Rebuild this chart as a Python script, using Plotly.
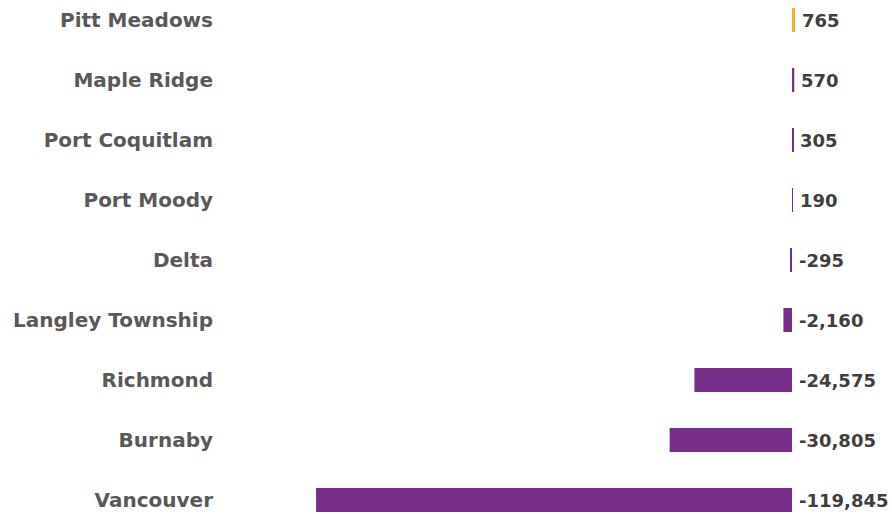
import plotly.graph_objects as go

# Net change by municipality
municipalities = [
    "Pitt Meadows", "Maple Ridge", "Port Coquitlam", "Port Moody", "Delta",
    "Langley Township", "Richmond", "Burnaby", "Vancouver",
]
net_change = [765, 570, 305, 190, -295, -2160, -24575, -30805, -119845]
value_labels = ["765", "570", "305", "190", "-295", "-2,160", "-24,575", "-30,805", "-119,845"]

PURPLE = "#772E88"
GOLD = "#F2B124"
bar_colors = [GOLD] + [PURPLE] * (len(municipalities) - 1)

fig = go.Figure(
    go.Bar(
        y=municipalities,
        x=net_change,
        orientation="h",
        marker=dict(color=bar_colors, line=dict(width=0)),
        width=0.4,
        hoverinfo="skip",
    )
)

# Value labels sit just right of the zero line (or the bar end when positive)
for name, v, lab in zip(municipalities, net_change, value_labels):
    fig.add_annotation(
        x=max(v, 0), y=name, text=lab, showarrow=False,
        xanchor="left", yanchor="middle", xshift=5,
        font=dict(family="DejaVu Sans", size=18, color="#3F3F3F", weight="bold"),
    )

fig.update_layout(
    width=892, height=514,
    margin=dict(l=214, r=0, t=0, b=0),
    plot_bgcolor="white", paper_bgcolor="white",
    showlegend=False,
    xaxis=dict(
        range=[-145540, 25180], showgrid=False, zeroline=False,
        showticklabels=False, showline=False, fixedrange=True,
    ),
    yaxis=dict(
        categoryorder="array", categoryarray=municipalities,
        range=[8 + 14 / 60, -20 / 60],
        showgrid=False, zeroline=False, showline=False, ticks="",
        tickfont=dict(family="DejaVu Sans", size=20, color="#595959", weight="bold"),
        fixedrange=True,
    ),
)

fig.write_html("out.html")
